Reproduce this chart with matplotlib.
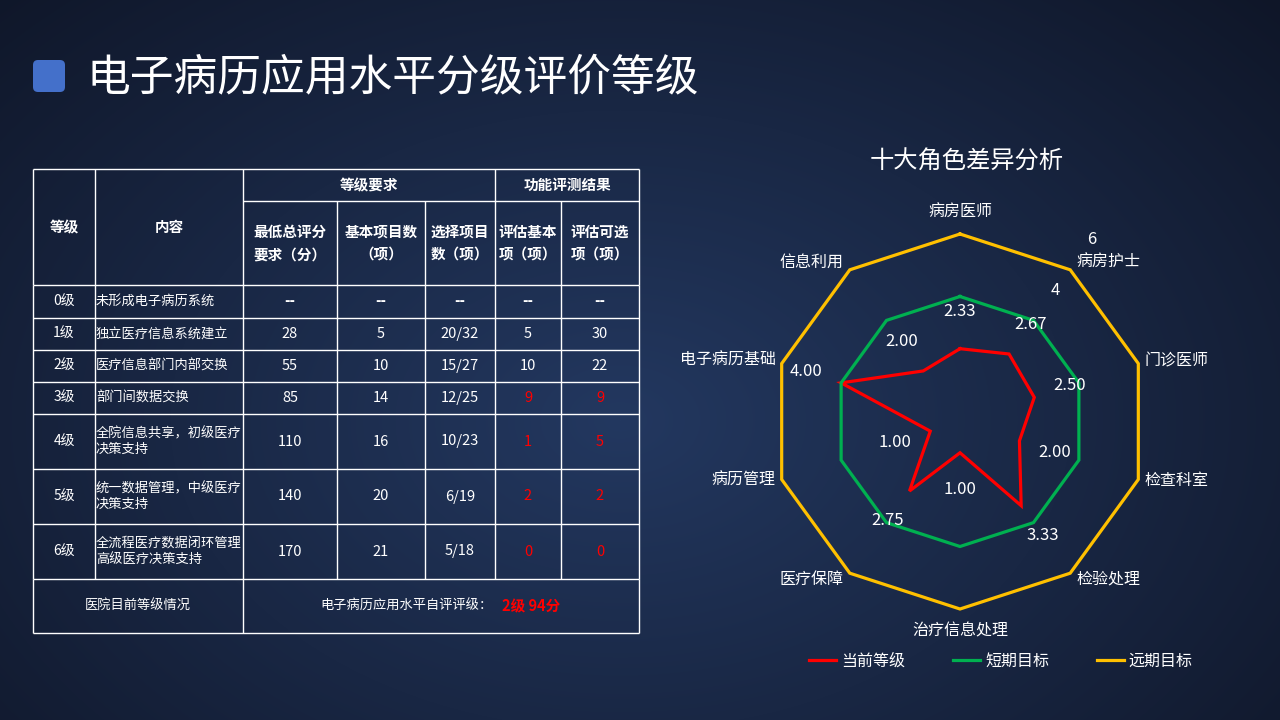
import numpy as np
import matplotlib
matplotlib.use("Agg")
import matplotlib.pyplot as plt
from matplotlib.patches import FancyBboxPatch
from matplotlib.lines import Line2D

plt.rcParams['font.family'] = ['Noto Sans CJK SC', 'DejaVu Sans']

# ---- table data ----
levels = ['0级', '1级', '2级', '3级', '4级', '5级', '6级']
contents = ['未形成电子病历系统', '独立医疗信息系统建立', '医疗信息部门内部交换', '部门间数据交换',
            '全院信息共享，初级医疗\n决策支持', '统一数据管理，中级医疗\n决策支持',
            '全流程医疗数据闭环管理\n高级医疗决策支持']
min_score = ['--', '28', '55', '85', '110', '140', '170']
basic_items = ['--', '5', '10', '14', '16', '20', '21']
optional_items = ['--', '20/32', '15/27', '12/25', '10/23', '6/19', '5/18']
eval_basic = ['--', '5', '10', '9', '1', '2', '0']
eval_optional = ['--', '30', '22', '9', '5', '2', '0']
red_rows = [3, 4, 5, 6]
sub_headers = ['最低总评分\n要求（分）', '基本项目数\n（项）', '选择项目\n数（项）', '评估基本\n项（项）', '评估可选\n项（项）']
current_rating = '2级 94分'

# ---- radar data ----
roles = ['病房医师', '病房护士', '门诊医师', '检查科室', '检验处理',
         '治疗信息处理', '医疗保障', '病历管理', '电子病历基础', '信息利用']
current = [2.33, 2.67, 2.50, 2.00, 3.33, 1.00, 2.75, 1.00, 4.00, 2.00]
short_term = [4, 4, 4, 4, 4, 4, 4, 4, 4, 4]
long_term = [6, 6, 6, 6, 6, 6, 6, 6, 6, 6]
r_labels = [4, 6]
series_names = ['当前等级', '短期目标', '远期目标']
series_colors = ['#FF0000', '#00B050', '#FFC000']

W, H = 1280, 720
fig = plt.figure(figsize=(12.8, 7.2), dpi=100)

# background
bg = fig.add_axes([0, 0, 1, 1])
yy, xx = np.mgrid[0:H, 0:W]
d = np.sqrt(((xx - 620) / 900.0) ** 2 + ((yy - 420) / 620.0) ** 2)
d = np.clip(d, 0, 1)
c_in = np.array([35, 56, 96]) / 255.0
c_out = np.array([15, 22, 40]) / 255.0
img = c_in[None, None, :] * (1 - d[..., None]) + c_out[None, None, :] * d[..., None]
bg.imshow(img, extent=[0, W, H, 0], aspect='auto')
bg.set_xlim(0, W)
bg.set_ylim(H, 0)
bg.axis('off')

# title
bg.add_patch(FancyBboxPatch((33, 60), 32, 32, boxstyle="round,pad=0,rounding_size=5",
                            fc='#4470CA', ec='none'))
bg.text(87, 77, '电子病历应用水平分级评价等级', color='white', fontsize=31.5, va='center', ha='left')

# table geometry
cols = [33, 95, 243, 337, 425, 495, 561, 639]
top, mid, head_bot = 169, 201, 285
rows = [285, 318, 350, 382, 414, 469, 524, 579, 633]
lc = 'white'
lw = 1.0

def hline(y, x0, x1):
    bg.plot([x0, x1], [y, y], color=lc, lw=lw, solid_capstyle='butt')

def vline(x, y0, y1):
    bg.plot([x, x], [y0, y1], color=lc, lw=lw, solid_capstyle='butt')

hline(top, cols[0], cols[-1])
hline(mid, cols[2], cols[-1])
for y in rows:
    hline(y, cols[0], cols[-1])
for x in [cols[0], cols[1], cols[2], cols[5], cols[7]]:
    vline(x, top, rows[0])
for x in [cols[3], cols[4], cols[6]]:
    vline(x, mid, rows[0])
for x in cols:
    vline(x, rows[0], rows[-2])
for x in [cols[0], cols[2], cols[7]]:
    vline(x, rows[-2], rows[-1])

fs_head = 10.5
fs_cell = 9.5
fs_num = 10.5
bg.text((cols[0] + cols[1]) / 2, (top + head_bot) / 2, '等级', color='white', fontsize=fs_head,
        fontweight='bold', ha='center', va='center')
bg.text((cols[1] + cols[2]) / 2, (top + head_bot) / 2, '内容', color='white', fontsize=fs_head,
        fontweight='bold', ha='center', va='center')
bg.text((cols[2] + cols[5]) / 2, (top + mid) / 2, '等级要求', color='white', fontsize=fs_head,
        fontweight='bold', ha='center', va='center')
bg.text((cols[5] + cols[7]) / 2, (top + mid) / 2, '功能评测结果', color='white', fontsize=fs_head,
        fontweight='bold', ha='center', va='center')
for i, s in enumerate(sub_headers):
    bg.text((cols[i + 2] + cols[i + 3]) / 2, (mid + head_bot) / 2, s, color='white', fontsize=fs_head,
            fontweight='bold', ha='center', va='center', multialignment='center', linespacing=1.5)

for r in range(len(levels)):
    yc = (rows[r] + rows[r + 1]) / 2
    bg.text((cols[0] + cols[1]) / 2, yc, levels[r], color='white', fontsize=10, ha='center', va='center')
    bg.text(cols[1] + 1, yc, contents[r], color='white', fontsize=fs_cell, ha='left', va='center',
            linespacing=1.3)
    vals = [min_score[r], basic_items[r], optional_items[r], eval_basic[r], eval_optional[r]]
    for j, v in enumerate(vals):
        col = '#FF0000' if (j >= 3 and r in red_rows) else 'white'
        bg.text((cols[j + 2] + cols[j + 3]) / 2, yc, v, color=col, fontsize=fs_num, ha='center', va='center',
                fontweight='bold' if v == '--' else 'normal')

yb = (rows[-2] + rows[-1]) / 2
bg.text((cols[0] + cols[2]) / 2, yb, '医院目前等级情况', color='white', fontsize=fs_cell, ha='center', va='center')
bg.text(493, yb, '电子病历应用水平自评评级：', color='white', fontsize=fs_cell, ha='right', va='center')
bg.text(502, yb, current_rating, color='#FF0000', fontsize=10.5, fontweight='bold', ha='left', va='center')

# radar title
fig.text(967 / W, 1 - 162 / H, '十大角色差异分析', color='white', fontsize=17.5, ha='center', va='center')

# radar
cx, cy, rad = 960, 421.5, 187.5
ax = fig.add_axes([(cx - rad) / W, (H - cy - rad) / H, 2 * rad / W, 2 * rad / H], projection='polar')
ax.set_facecolor('none')
ax.set_theta_zero_location('N')
ax.set_theta_direction(-1)
ax.set_ylim(0, 6)
ax.grid(False)
ax.set_xticks([])
ax.set_yticks([])
ax.spines['polar'].set_visible(False)

n = len(roles)
theta = np.arange(n) * 2 * np.pi / n
tc = np.append(theta, theta[0])
for vals, colr in zip([current, short_term, long_term], series_colors):
    ax.plot(tc, np.append(vals, vals[0]), color=colr, lw=2.3, clip_on=False, solid_joinstyle='miter')

off = 37
for t, v in zip(theta, current):
    ax.annotate(f'{v:.2f}', (t, v), xytext=(off * np.sin(t), off * np.cos(t)), textcoords='offset pixels',
                color='white', fontsize=12, ha='center', va='center', annotation_clip=False)
for rv in r_labels:
    t = theta[1]
    ax.annotate(str(rv), (t, rv), xytext=(off * np.sin(t), off * np.cos(t)), textcoords='offset pixels',
                color='white', fontsize=12, ha='center', va='center', annotation_clip=False)

# category labels
dy_map = [23, 8, 3, -1, -6, -22, -6, -1, 3, 8]
for t, name, dy in zip(theta, roles, dy_map):
    s = np.sin(t)
    if abs(s) < 1e-6:
        ha, dx = 'center', 0
    elif s > 0:
        ha, dx = 'left', 6
    else:
        ha, dx = 'right', -6
    ax.annotate(name, (t, 6), xytext=(dx, dy), textcoords='offset pixels', color='white', fontsize=11.5,
                ha=ha, va='center', annotation_clip=False)

handles = [Line2D([0], [0], color=c, lw=2.3) for c in series_colors]
fig.legend(handles, series_names, loc='center', bbox_to_anchor=(1001 / W, 1 - 661 / H), ncol=3,
           frameon=False, fontsize=11.5, labelcolor='white', handlelength=1.7, handletextpad=0.3,
           columnspacing=3.0)

fig.savefig('out.png', dpi=100)
